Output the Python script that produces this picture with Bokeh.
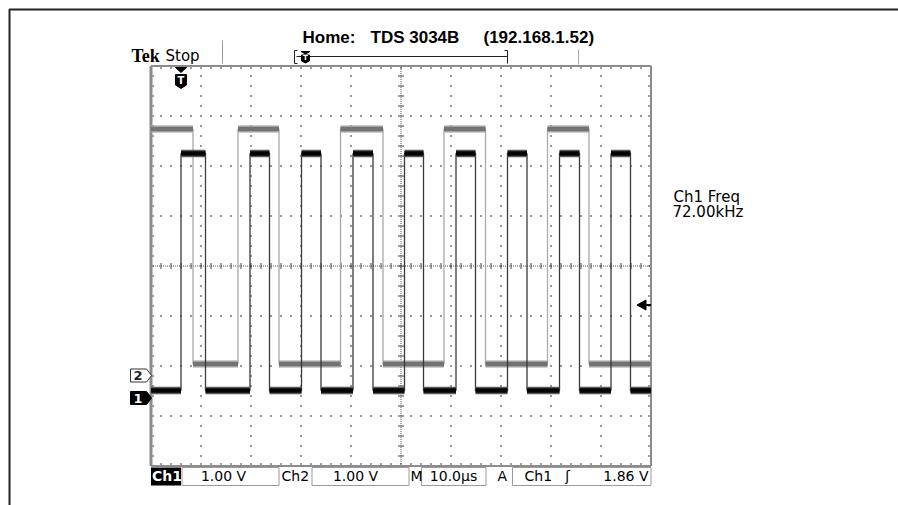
import numpy as np
from bokeh.plotting import figure
from bokeh.models import Range1d, Label
from bokeh.embed import file_html
from bokeh.resources import INLINE

# ---------------- data ----------------
time_per_div_us = 10.0
ch1_volts_per_div = 1.0
ch2_volts_per_div = 1.0
ch1_ground_div = -2.64
ch2_ground_div = -2.19
trigger_level_v = 1.86
trigger_time_us = -44.0

ch1_edges_us = [-44.0, -39.1, -30.2, -26.3, -19.9, -16.0, -9.6, -5.6, 0.7, 4.5,
                11.0, 14.9, 21.3, 25.2, 31.7, 35.7, 42.0, 45.9]
ch1_start_high = False
ch1_low_v = 0.15
ch1_high_v = 4.89

ch2_edges_us = [-41.6, -32.6, -24.4, -12.1, -3.6, 8.6, 16.9, 29.3, 37.6]
ch2_start_high = True
ch2_low_v = 0.23
ch2_high_v = 4.93

title_parts = ["Home:", "TDS 3034B", "(192.168.1.52)"]
meas_label = "Ch1 Freq"
meas_value = "72.00kHz"
ch1_scale_text = "1.00 V"
ch2_scale_text = "1.00 V"
time_scale_text = "10.0µs"
trig_level_text = "1.86 V"

# ---------------- figure ----------------
X0, X1 = -80.1, 99.5      # µs
Y0, Y1 = -4.79, 5.31      # divisions
p = figure(width=898, height=505, x_range=Range1d(X0, X1), y_range=Range1d(Y0, Y1),
           output_backend="svg", toolbar_location=None, x_axis_type=None, y_axis_type=None)
p.grid.visible = False
p.min_border = 0
p.min_border_left = 0
p.min_border_right = 0
p.min_border_top = 0
p.min_border_bottom = 0
p.outline_line_color = None
p.background_fill_color = "white"
p.border_fill_color = "white"

PX = 0.2    # µs per pixel
PY = 0.02   # div per pixel
XL, XR = -5 * time_per_div_us, 5 * time_per_div_us
YB, YT = -4.0, 4.0
TS = 0.11   # text baseline correction (div)

# outer frame (top + left)
p.line([-78.3, -78.3, X1 + 1], [Y0, 5.13, 5.13], line_color="#222", line_width=2)

# ---------------- graticule ----------------
dx, dy = [], []
for k in range(-4, 5):
    if k == 0:
        continue
    xv = k * time_per_div_us
    for yv in np.arange(-3.8, 4.0, 0.2):
        dx.append(xv); dy.append(yv)
for k in range(-3, 4):
    if k == 0:
        continue
    for xv in np.arange(-48, 50, 2):
        if abs(xv % 10) < 1e-6:
            continue
        dx.append(xv); dy.append(k)
p.scatter(dx, dy, marker="square", size=1.6, color="#555", line_color=None)

# center cross
p.line([XL, XR], [0, 0], line_color="#555", line_width=1, line_dash="1 1")
p.line([0, 0], [YB, YT], line_color="#555", line_width=1, line_dash="1 1")
tx = np.arange(-48, 50, 2)
p.segment(tx, np.full(len(tx), -3 * PY), tx, np.full(len(tx), 3 * PY), line_color="#444", line_width=1)
ty = np.arange(-3.8, 4.0, 0.2)
p.segment(np.full(len(ty), -3 * PX), ty, np.full(len(ty), 3 * PX), ty, line_color="#444", line_width=1)

# border ticks
p.segment(tx, np.full(len(tx), YT), tx, np.full(len(tx), YT - 3 * PY), line_color="#444", line_width=1)
p.segment(tx, np.full(len(tx), YB), tx, np.full(len(tx), YB + 3 * PY), line_color="#444", line_width=1)
p.segment(np.full(len(ty), XL), ty, np.full(len(ty), XL + 3 * PX), ty, line_color="#444", line_width=1)
p.segment(np.full(len(ty), XR), ty, np.full(len(ty), XR - 3 * PX), ty, line_color="#444", line_width=1)

# borders
p.line([XL, XR], [YT, YT], line_color="#8c8c8c", line_width=2)
p.line([XL, XL], [YB, YT], line_color="#8c8c8c", line_width=3)
p.line([XR, XR], [YB, YT], line_color="#8c8c8c", line_width=2)
p.line([XL, XR], [YB, YB], line_color="#8c8c8c", line_width=2)


# ---------------- traces ----------------
def trace(edges, start_high, lo_v, hi_v, ground, vpd):
    lo = ground + lo_v / vpd
    hi = ground + hi_v / vpd
    state = start_high
    xs, ys = [XL], [hi if state else lo]
    bounds = [XL] + list(edges) + [XR]
    seg = []
    for i in range(len(bounds) - 1):
        seg.append((bounds[i], bounds[i + 1], hi if state else lo))
        if i < len(edges):
            e = edges[i]
            xs += [e, e]
            ys += [hi if state else lo, lo if state else hi]
            state = not state
    xs.append(XR); ys.append(hi if state else lo)
    return xs, ys, seg


def bands(seg, half_outer, half_inner, c_outer, c_inner):
    p.quad(left=[s[0] for s in seg], right=[s[1] for s in seg],
           bottom=[s[2] - half_outer * PY for s in seg], top=[s[2] + half_outer * PY for s in seg],
           fill_color=c_outer, line_color=None)
    p.quad(left=[s[0] for s in seg], right=[s[1] for s in seg],
           bottom=[s[2] - half_inner * PY for s in seg], top=[s[2] + half_inner * PY for s in seg],
           fill_color=c_inner, line_color=None)


x2, y2, s2 = trace(ch2_edges_us, ch2_start_high, ch2_low_v, ch2_high_v, ch2_ground_div, ch2_volts_per_div)
x1, y1, s1 = trace(ch1_edges_us, ch1_start_high, ch1_low_v, ch1_high_v, ch1_ground_div, ch1_volts_per_div)

p.line(x2, y2, line_color="#a8a8a8", line_width=1.3)
bands(s2, 3.5, 2.0, "#a0a0a0", "#737373")
p.line(x1, y1, line_color="#3a3a3a", line_width=1.3)
bands(s1, 3.8, 2.3, "#5a5a5a", "#050505")


# ---------------- markers ----------------
def ground_marker(yc, fill, line, txt, txt_col):
    xa, xb, xt = -54.1, -50.9, -49.9
    h = 6.5 * PY
    p.patch([xa, xb, xt, xb, xa], [yc + h, yc + h, yc, yc - h, yc - h],
            fill_color=fill, line_color=line, line_width=1)
    p.add_layout(Label(x=(xa + xb) / 2 - 0.1, y=yc, text=txt, text_color=txt_col,
                       text_font="DejaVu Sans", text_font_size="13px", text_font_style="bold",
                       text_align="center", text_baseline="middle"))


ground_marker(ch2_ground_div, "white", "#333", "2", "#222")
ground_marker(ch1_ground_div, "black", "black", "1", "white")

# trigger level arrow (right edge)
yl = ch1_ground_div + trigger_level_v / ch1_volts_per_div
p.patch([47.2, 49.0, 49.0], [yl, yl + 5 * PY, yl - 5 * PY], fill_color="black", line_color="black")
p.line([49.0, XR], [yl, yl], line_color="black", line_width=2)

# trigger position marker (top of graticule)
tt = trigger_time_us
p.patch([tt - 1.1, tt + 1.1, tt], [YT - 1.5 * PY, YT - 1.5 * PY, YT - 6.5 * PY],
        fill_color="black", line_color="black")
p.patch([tt - 1.1, tt + 1.1, tt + 1.1, tt, tt - 1.1],
        [YT - 8.5 * PY, YT - 8.5 * PY, YT - 19 * PY, YT - 22.5 * PY, YT - 19 * PY],
        fill_color="black", line_color="black")
p.add_layout(Label(x=tt, y=YT - 14.5 * PY, text="T", text_color="white", text_font="DejaVu Sans",
                   text_font_size="10px", text_font_style="bold", text_align="center",
                   text_baseline="middle"))


# ---------------- top header ----------------
def lab(x, y, t, font, size, style="normal", color="black", align="left"):
    p.add_layout(Label(x=x, y=y + TS, text=t, text_font=font, text_font_size=size,
                       text_font_style=style, text_color=color, text_align=align,
                       text_baseline="alphabetic"))


lab(-53.9, 4.10, "Tek", "Liberation Serif", "18px", "bold")
lab(-47.1, 4.10, "Stop", "DejaVu Sans", "15px")
p.line([-35.7, -35.7], [4.05, 4.51], line_color="#999", line_width=1)
# record bracket
yb = 4.19
p.line([-20.9, 21.3], [yb, yb], line_color="#222", line_width=1)
p.line([-20.7, -21.3, -21.3, -20.7], [4.31, 4.31, 4.05, 4.05], line_color="#222", line_width=1)
p.line([20.7, 21.3, 21.3], [4.31, 4.31, 4.05], line_color="#222", line_width=1)
p.patch([-20.0, -18.2, -19.1], [4.29, 4.29, 4.24], fill_color="black", line_color="black")
p.patch([-19.9, -18.3, -18.3, -19.1, -19.9], [4.22, 4.22, 4.10, 4.06, 4.10], fill_color="black", line_color="black")
p.add_layout(Label(x=-19.1, y=4.155, text="T", text_color="white", text_font="DejaVu Sans",
                   text_font_size="7px", text_font_style="bold", text_align="center",
                   text_baseline="middle"))
p.line([35.5, 35.5], [4.03, 4.33], line_color="#aaa", line_width=1)

title_x = [-19.7, -6.1, 16.5]
for tx_, tt_ in zip(title_x, title_parts):
    lab(tx_, 4.47, tt_, "Liberation Sans", "17px", "bold")

# measurement readout
lab(54.5, 1.264, meas_label, "DejaVu Sans", "15px")
lab(54.3, 0.964, meas_value, "DejaVu Sans", "15px")

# ---------------- status bar ----------------
bt, bb = -4.03, -4.39
by = -4.31
p.quad(left=[XL], right=[-44.0], top=[bt], bottom=[bb], fill_color="black", line_color=None)
lab(-49.8, by, "Ch1", "DejaVu Sans", "14px", "bold", "white")
boxes_l = [-43.8, -17.8, 4.1, 22.3]
boxes_r = [-24.4, 1.6, 17.0, 50.0]
p.quad(left=boxes_l, right=boxes_r, top=[bt] * 4, bottom=[bb] * 4, fill_color=None,
       line_color="#9a9a9a", line_width=1)


def stext(x, t, align="left"):
    lab(x, by, t, "DejaVu Sans", "14px", "normal", "black", align)


stext(-35.5, ch1_scale_text, "center")
stext(-23.9, "Ch2")
stext(-9.1, ch2_scale_text, "center")
stext(1.9, "M")
stext(10.5, time_scale_text, "center")
stext(19.3, "A")
stext(24.7, "Ch1")
stext(33.3, "ʃ", "center")
stext(49.5, trig_level_text, "right")

open("out.html", "w").write(file_html(p, INLINE))
